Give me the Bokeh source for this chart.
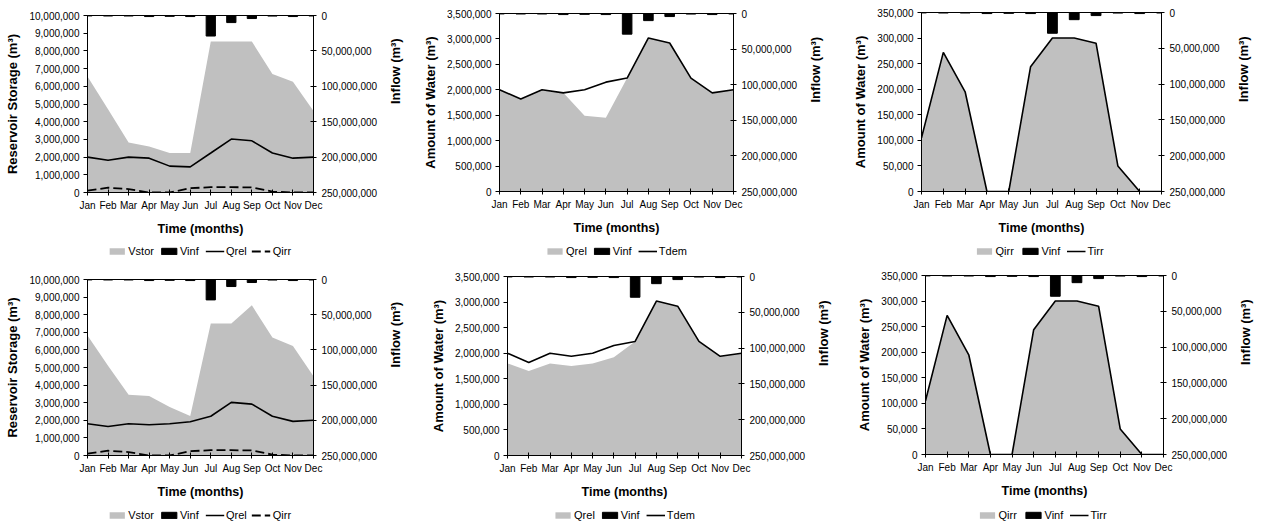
import math
from bokeh.plotting import figure
from bokeh.models import (Range1d, LinearAxis, FixedTicker, NumeralTickFormatter,
                          Legend, LegendItem)
from bokeh.layouts import column, row
from bokeh.embed import file_html
from bokeh.resources import INLINE

months = ["Jan", "Feb", "Mar", "Apr", "May", "Jun", "Jul", "Aug", "Sep", "Oct", "Nov", "Dec"]

# Inflow (right, reversed axis)
vinf = [0.6e6, 0.7e6, 0.7e6, 1.5e6, 1.2e6, 1.5e6, 29e6, 10e6, 4.3e6, 0.8e6, 1.5e6, 0.7e6]

# Scenario A (top row)
vstor_a = [6.55e6, 4.7e6, 2.83e6, 2.6e6, 2.23e6, 2.23e6, 8.53e6, 8.53e6, 8.53e6, 6.7e6, 6.26e6, 4.6e6]
qrel_a = [2.0e6, 1.82e6, 2.0e6, 1.94e6, 1.49e6, 1.45e6, 2.23e6, 3.02e6, 2.92e6, 2.23e6, 1.94e6, 2.0e6]
# Scenario B (bottom row)
vstor_b = [6.82e6, 5.1e6, 3.45e6, 3.38e6, 2.75e6, 2.25e6, 7.5e6, 7.5e6, 8.53e6, 6.7e6, 6.22e6, 4.5e6]
qrel_b = [1.8e6, 1.65e6, 1.8e6, 1.75e6, 1.8e6, 1.92e6, 2.23e6, 3.02e6, 2.92e6, 2.23e6, 1.94e6, 2.0e6]

tdem = [2.0e6, 1.82e6, 2.0e6, 1.94e6, 2.0e6, 2.15e6, 2.23e6, 3.02e6, 2.92e6, 2.23e6, 1.94e6, 2.0e6]
qirr = [105e3, 272e3, 195e3, 0, 0, 244e3, 300e3, 300e3, 290e3, 50e3, 0, 0]
tirr = [105e3, 272e3, 195e3, 0, 0, 244e3, 300e3, 300e3, 290e3, 50e3, 0, 0]

FONT = "Liberation Sans"
GRAY = "#c0c0c0"
DASH = "9 4"
x = list(range(12))


def draw_series(fig, area, line, dash, y_range_name_inf, bar_line="black"):
    ra = fig.varea(x=x, y1=[0] * 12, y2=area, fill_color=GRAY)
    kw = {"y_range_name": y_range_name_inf} if y_range_name_inf else {}
    rb = fig.vbar(x=x, width=0.45, top=[0] * 12, bottom=vinf,
                  fill_color="black", line_color=bar_line, **kw)
    rl = fig.line(x=x, y=line, line_color="black", line_width=1.6)
    rd = None
    if dash is not None:
        rd = fig.line(x=x, y=dash, line_color="black", line_width=1.8, line_dash=DASH)
    return ra, rb, rl, rd


def legend_fig(width, height, l, r, names, area, line, dash):
    # legend strip: the same series, hidden, only used for the legend keys
    q = figure(width=width, height=height, output_backend="svg", toolbar_location=None,
               x_range=Range1d(0, 11), y_range=Range1d(-2e9, -1e9),
               x_axis_location=None, y_axis_location=None,
               min_border_left=l, min_border_right=r, min_border_top=0, min_border_bottom=0)
    q.xgrid.visible = False
    q.ygrid.visible = False
    q.outline_line_color = None
    ra, rb, rl, rd = draw_series(q, area, line, dash, None, bar_line="black")
    rends = [ra, rb, rl] + ([rd] if rd is not None else [])
    for rr in rends:
        rr.visible = False
    items = [LegendItem(label=names[0], renderers=[ra]),
             LegendItem(label="Vinf", renderers=[rb]),
             LegendItem(label=names[1], renderers=[rl])]
    if rd is not None:
        items.append(LegendItem(label=names[2], renderers=[rd]))
    leg = Legend(items=items, orientation="horizontal", location="center")
    leg.inactive_fill_alpha = 0
    leg.label_text_font = FONT
    leg.label_text_font_size = "11px"
    leg.label_text_color = "black"
    leg.glyph_width = 19
    leg.glyph_height = 8
    leg.label_standoff = 2
    leg.spacing = 5
    leg.padding = 1
    leg.margin = 0
    leg.label_height = 12
    leg.border_line_alpha = 0
    leg.background_fill_alpha = 0
    q.add_layout(leg, "center")
    return q


def panel(width, height, borders, leg_h, ymax, ystep, ylabel, area, area_name,
          line, line_name, dash=None, dash_name=None):
    l, r, t, b = borders
    p = figure(width=width, height=height, output_backend="svg", toolbar_location=None,
               x_range=Range1d(0, 11), y_range=Range1d(0, ymax),
               min_border_left=l, min_border_right=r, min_border_top=t, min_border_bottom=b)
    p.xgrid.visible = False
    p.ygrid.visible = False
    p.outline_line_color = "black"
    p.outline_line_width = 1
    p.background_fill_color = "white"
    p.border_fill_color = "white"

    p.extra_y_ranges = {"inf": Range1d(250e6, 0)}
    draw_series(p, area, line, dash, "inf")

    # x axis
    xa = p.xaxis[0]
    xa.ticker = FixedTicker(ticks=x)
    xa.major_label_overrides = {i: m for i, m in enumerate(months)}
    xa.axis_label = "Time (months)"
    # left axis
    ya = p.yaxis[0]
    ya.ticker = FixedTicker(ticks=[i * ystep for i in range(int(round(ymax / ystep)) + 1)])
    ya.formatter = NumeralTickFormatter(format="0,0")
    ya.axis_label = ylabel
    ya.major_tick_in = 0
    ya.major_tick_out = 4
    # right axis
    ra_ax = LinearAxis(y_range_name="inf", axis_label="Inflow (m³)",
                       ticker=FixedTicker(ticks=[0, 50e6, 100e6, 150e6, 200e6, 250e6]),
                       formatter=NumeralTickFormatter(format="0,0"))
    p.add_layout(ra_ax, "right")
    ra_ax.major_tick_in = 3
    ra_ax.major_tick_out = 3
    try:
        ra_ax.axis_label_orientation = math.pi / 2
    except Exception:
        pass

    for ax in [xa, ya, ra_ax]:
        ax.minor_tick_line_color = None
        ax.axis_line_color = "black"
        ax.major_tick_line_color = "black"
        ax.major_label_text_font = FONT
        ax.major_label_text_font_size = "10px"
        ax.major_label_text_color = "black"
        ax.axis_label_text_font = FONT
        ax.axis_label_text_font_style = "bold"
        ax.axis_label_text_font_size = "13px"
        ax.axis_label_text_color = "black"
        ax.major_label_standoff = 4
        ax.axis_label_standoff = 6
    ra_ax.major_label_standoff = 5
    ra_ax.axis_label_standoff = 15
    xa.major_tick_in = 3
    xa.major_tick_out = 3
    xa.axis_label_text_font_size = "12.5px"
    xa.axis_label_standoff = 8
    xa.major_label_standoff = 4

    names = [area_name, line_name, dash_name]
    lg = legend_fig(width, leg_h, l, r, names, area, line, dash)
    return column(p, lg, spacing=0)


# top row: figure heights 238 + legend 26 = 264
p1 = panel(420, 238, (87, 107, 15, 46), 26, 10e6, 1e6, "Reservoir Storage (m³)",
           vstor_a, "Vstor", qrel_a, "Qrel", qirr, "Qirr")
p2 = panel(430, 238, (79, 117, 13, 47), 26, 3.5e6, 0.5e6, "Amount of Water (m³)",
           qrel_a, "Qrel", tdem, "Tdem")
p3 = panel(413, 238, (68, 102, 12, 47), 26, 350e3, 50e3, "Amount of Water (m³)",
           qirr, "Qirr", tirr, "Tirr")
# bottom row: 238 + 25 = 263
p4 = panel(420, 238, (87, 107, 15, 47), 25, 10e6, 1e6, "Reservoir Storage (m³)",
           vstor_b, "Vstor", qrel_b, "Qrel", qirr, "Qirr")
p5 = panel(430, 238, (87, 109, 12, 47), 25, 3.5e6, 0.5e6, "Amount of Water (m³)",
           qrel_b, "Qrel", tdem, "Tdem")
p6 = panel(413, 238, (75, 95, 11, 48), 25, 350e3, 50e3, "Amount of Water (m³)",
           qirr, "Qirr", tirr, "Tirr")

layout = column(row(p1, p2, p3, spacing=0), row(p4, p5, p6, spacing=0), spacing=0)

open("out.html", "w").write(file_html(layout, INLINE))
